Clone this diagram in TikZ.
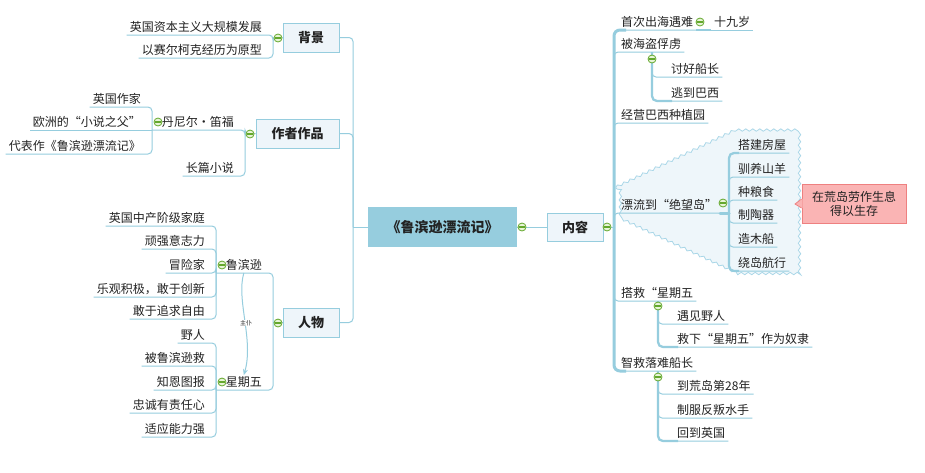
\documentclass[tikz,border=0pt]{standalone}
\usepackage{fontspec}
\setmainfont{Noto Sans CJK SC}
\usetikzlibrary{decorations.pathmorphing,calc,arrows.meta}
\definecolor{lineblue}{RGB}{150,205,222}
\definecolor{boxline}{RGB}{150,205,222}
\definecolor{boxfill}{RGB}{238,245,250}
\definecolor{rootfill}{RGB}{150,205,222}
\definecolor{mgreen}{RGB}{100,168,45}
\definecolor{mgreenfill}{RGB}{232,245,215}
\definecolor{cloudfill}{RGB}{238,246,250}
\definecolor{cloudline}{RGB}{170,215,232}
\definecolor{notefill}{RGB}{250,180,180}
\definecolor{noteline}{RGB}{238,128,128}
\definecolor{textc}{RGB}{34,34,34}
\tikzset{
  leafR/.style={anchor=south west, inner xsep=3pt, inner ysep=1.5pt, text height=9.5pt, text depth=2pt, font=\fontsize{12}{14}\selectfont, text=textc},
  leafL/.style={leafR, anchor=south east},
  topbox/.style={draw=boxline, fill=boxfill, line width=0.8pt, minimum height=29pt, inner sep=0pt, font=\fontsize{13}{15}\selectfont\bfseries, text=textc},
  rootbox/.style={fill=rootfill, minimum width=149pt, minimum height=40pt, inner sep=0pt, font=\fontsize{14}{16}\selectfont\bfseries, text=textc},
  conn/.style={draw=lineblue, line width=1pt, rounded corners=4pt},
  subthick/.style={draw=lineblue, line width=2.2pt, rounded corners=5pt},
  trunkline/.style={draw=lineblue, line width=3pt, rounded corners=6pt},
  mcirc/.style={circle, draw=mgreen, fill=mgreenfill, line width=0.8pt, minimum size=8pt, inner sep=0pt,
    path picture={\draw[mgreen, line width=1.1pt] ([xshift=-2.6pt]path picture bounding box.center) -- ([xshift=2.6pt]path picture bounding box.center);}},
  cloudshape/.style={fill=cloudfill, draw=cloudline, line width=0.8pt, decorate, decoration={snake, segment length=7pt, amplitude=1.2pt}},
  notebox/.style={draw=noteline, fill=notefill, line width=0.8pt, minimum width=104pt, minimum height=39pt, inner sep=0pt, align=center, font=\fontsize{12}{14}\selectfont, text=textc},
  rel/.style={draw=lineblue, line width=1pt, -{Stealth[length=6pt,width=5pt]}},
}
\begin{document}
\begin{tikzpicture}[x=1pt,y=-1pt]
\useasboundingbox (0,0) rectangle (925,472);
\fill[white] (0,0) rectangle (925,472);

% cloud
\path[cloudshape] (616,187) -- (733,131) -- (795,131) -- (795,276) -- (733,276) -- (616,221) -- cycle;

% main boxes
\node[rootbox] (root) at (442.5,227) {《鲁滨逊漂流记》};
\node[topbox, minimum width=56pt] (bg) at (311,37.5) {背景};
\node[topbox, minimum width=83pt] (zz) at (297.5,133.5) {作者作品};
\node[topbox, minimum width=56pt] (rw) at (311,322.5) {人物};
\node[topbox, minimum width=56pt, minimum height=28pt] (nr) at (575,227) {内容};

% left trunk
\coordinate (lt) at (353,227);
\draw[conn] (root.west) -- (lt);
\draw[conn] (bg.east) -| (lt);
\draw[conn] (rw.east) -| (lt);
\draw[conn] (zz.east) -| (lt);

% 背景
\node[leafL] (bg1) at (265,35) {英国资本主义大规模发展};
\node[leafL] (bg2) at (265,58) {以赛尔柯克经历为原型};
\coordinate (bgv) at (273,38);
\draw[conn] (bg.west) -- (bgv);
\draw[conn] (bgv) |- (bg1.south west);
\draw[conn] (bgv) |- (bg2.south west);

% 作者作品
\node[leafL] (zz1) at (237,130) {丹尼尔・笛福};
\node[leafL] (zz2) at (237,176) {长篇小说};
\coordinate (zzv) at (245,134);
\coordinate (zz1v) at (152,130);
\draw[conn] (zz.west) -- (zzv) |- (zz1v);
\draw[conn] (zzv) |- (zz2.south west);
\node[leafL] (zz11) at (144,107) {英国作家};
\node[leafL] (zz12) at (144,130) {欧洲的“小说之父”};
\node[leafL] (zz13) at (144,154) {代表作《鲁滨逊漂流记》};
\draw[conn] (zz1v) |- (zz11.south west);
\draw[conn] (zz1v) -- (zz12.south west);
\draw[conn] (zz1v) |- (zz13.south west);

% 人物
\node[leafL] (rw1) at (265,273) {鲁滨逊};
\node[leafL] (rw2) at (265,390) {星期五};
\coordinate (rwv) at (273,322.5);
\coordinate (rw1v) at (216,273);
\coordinate (rw2v) at (216,390);
\draw[conn] (rw.west) -- (rwv);
\draw[conn] (rwv) |- (rw1v);
\draw[conn] (rwv) |- (rw2v);
\node[leafL] (rw11) at (208,226) {英国中产阶级家庭};
\node[leafL] (rw12) at (208,249) {顽强意志力};
\node[leafL] (rw13) at (208,273) {冒险家};
\node[leafL] (rw14) at (208,297) {乐观积极，敢于创新};
\node[leafL] (rw15) at (208,319) {敢于追求自由};
\foreach \k in {rw11,rw12,rw13,rw14,rw15} \draw[conn] (rw1v) |- (\k.south west);
\node[leafL] (rw21) at (208,343) {野人};
\node[leafL] (rw22) at (208,366) {被鲁滨逊救};
\node[leafL] (rw23) at (208,390) {知恩图报};
\node[leafL] (rw24) at (208,413) {忠诚有责任心};
\node[leafL] (rw25) at (208,437) {适应能力强};
\foreach \k in {rw21,rw22,rw23,rw24,rw25} \draw[conn] (rw2v) |- (\k.south west);

% relation
\draw[rel] (rw1.south) .. controls (236,300) and (254,340) .. (rw2.north);
\node[font=\fontsize{6}{7}\selectfont, fill=white, inner sep=0.6pt, text=textc] (rl) at (246,323) {主仆};

% right side
\node[leafR] (r1) at (618,30) {首次出海遇难};
\node[leafR] (r1a) at (711,30) {十九岁};
\node[leafR] (r2) at (618,52) {被海盗俘虏};
\node[leafR] (r21) at (668,77) {讨好船长};
\node[leafR] (r22) at (668,101) {逃到巴西};
\node[leafR] (r3) at (618,123) {经营巴西种植园};
\node[leafR] (r4) at (618,213) {漂流到“绝望岛”};
\node[leafR] (r41) at (735,153) {搭建房屋};
\node[leafR] (r42) at (735,177) {驯养山羊};
\node[leafR] (r43) at (735,200) {种粮食};
\node[leafR] (r44) at (735,223) {制陶器};
\node[leafR] (r45) at (735,247) {造木船};
\node[leafR] (r46) at (735,271) {绕岛航行};
\node[leafR] (r5) at (618,301) {搭救“星期五};
\node[leafR] (r51) at (674,324) {遇见野人};
\node[leafR] (r52) at (674,347) {救下“星期五”作为奴隶};
\node[leafR] (r6) at (618,371) {智救落难船长};
\node[leafR] (r61) at (674,394) {到荒岛第28年};
\node[leafR] (r62) at (674,418) {制服反叛水手};
\node[leafR] (r63) at (674,441) {回到英国};

\coordinate (tr) at (614,227);
\draw[conn] (root.east) -- (nr.west);
\draw[conn] (nr.east) -- (tr);
\draw[trunkline] ($(r1.south west)+(8,0)$) -| (tr) |- ($(r6.south west)+(8,0)$);
\foreach \k in {r1,r2,r3,r4,r5,r6} \draw[conn] (tr) |- (\k.south east);

% 十九岁
\draw[conn] (r1.south east) -- (r1a.south east);
\draw[draw=lineblue, line width=2.2pt] (r1.south east) -- (r1a.south west);

% 被海盗俘虏
\coordinate (r2v) at (652,52);
\draw[subthick] (r2v) |- ($(r22.south west)+(4,0)$);
\draw[conn] (r2v) |- (r21.south east);
\draw[conn] (r2v) |- (r22.south east);

% 漂流到绝望岛
\coordinate (r4v) at (729,213);
\draw[conn] (r4.south east) -- (r4v);
\draw[draw=lineblue, line width=3pt, line cap=round] ($(r4v)+(-9,0)$) -- (r4v);
\draw[subthick] ($(r41.south west)+(4,0)$) -| (r4v) |- ($(r46.south west)+(4,0)$);
\foreach \k in {r41,r42,r43,r44,r45,r46} \draw[conn] (r4v) |- (\k.south east);

% 搭救星期五
\coordinate (r5v) at (658,301);
\draw[subthick] (r5v) |- ($(r52.south west)+(4,0)$);
\draw[conn] (r5v) |- (r51.south east);
\draw[conn] (r5v) |- (r52.south east);

% 智救落难船长
\coordinate (r6v) at (658,371);
\draw[subthick] (r6v) |- ($(r63.south west)+(4,0)$);
\foreach \k in {r61,r62,r63} \draw[conn] (r6v) |- (\k.south east);

% note
\node[notebox] (cb) at (854,203.5) {在荒岛劳作生息\\得以生存};
\coordinate (tip) at (795,204);
\fill[notefill] ($(cb.west)+(1,-4.5)$) -- (tip) -- ($(cb.west)+(1,4.5)$) -- cycle;
\draw[noteline, line width=0.8pt] ($(cb.west)+(0,-4.5)$) -- (tip) -- ($(cb.west)+(0,4.5)$);

% collapse circles
\node[mcirc] (mroot) at (522,227) {};
\node[mcirc] (mnr) at (607,227) {};
\node[mcirc] (mbg) at (278,38) {};
\node[mcirc] (mzz) at (250,134) {};
\node[mcirc] (mzz1) at (158,122) {};
\node[mcirc] (mrw) at (278,323) {};
\node[mcirc] (mrw1) at (222,265) {};
\node[mcirc] (mrw2) at (222,382) {};
\node[mcirc] (mr1) at (700,22) {};
\node[mcirc] (mr2) at (652,59) {};
\node[mcirc] (mr4) at (723,203) {};
\node[mcirc] (mr5) at (658,306) {};
\node[mcirc] (mr6) at (658,377) {};
\end{tikzpicture}
\end{document}
